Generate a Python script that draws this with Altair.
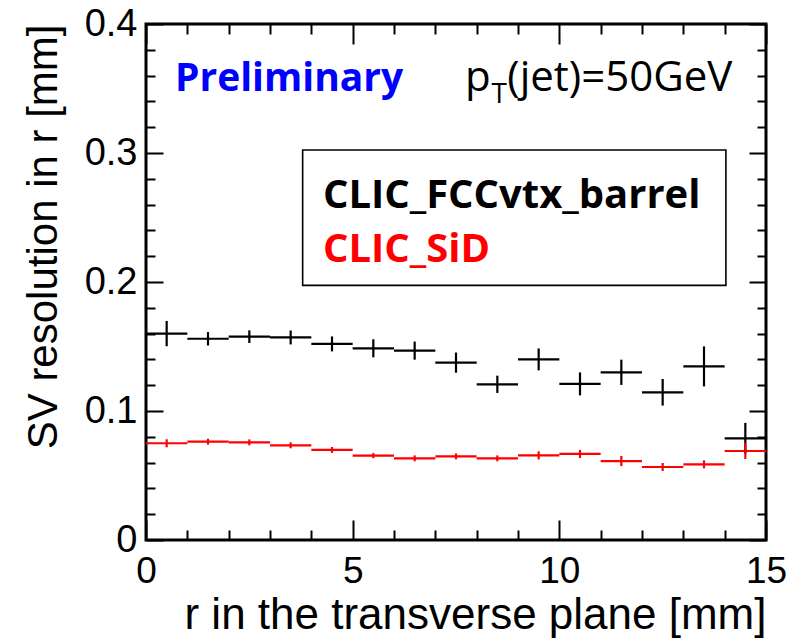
import altair as alt
import pandas as pd

# ---------------- data ----------------
bin_centers = [0.5, 1.5, 2.5, 3.5, 4.5, 5.5, 6.5, 7.5, 8.5, 9.5, 10.5, 11.5, 12.5, 13.5, 14.5]
half_width = 0.5

fcc_vals = [0.160, 0.156, 0.1576, 0.157, 0.152, 0.1486, 0.1468, 0.1375, 0.1207, 0.140,
            0.121, 0.130, 0.1145, 0.1346, 0.0788]
fcc_errs = [0.0098, 0.0052, 0.0049, 0.0054, 0.0058, 0.0070, 0.0070, 0.0078, 0.0067, 0.0085,
            0.0089, 0.0098, 0.0103, 0.0155, 0.0120]

sid_vals = [0.0750, 0.0762, 0.0757, 0.0734, 0.0698, 0.0654, 0.0633, 0.0648, 0.0633, 0.0656,
            0.0667, 0.0612, 0.0566, 0.0587, 0.0690]
sid_errs = [0.0031, 0.0023, 0.0023, 0.0023, 0.0023, 0.0020, 0.0023, 0.0023, 0.0023, 0.0031,
            0.0031, 0.0039, 0.0031, 0.0031, 0.0062]

series_names = ["CLIC_FCCvtx_barrel", "CLIC_SiD"]
series_colors = ["#000000", "#ff0000"]

x_major = [0, 5, 10, 15]
x_minor = [1, 2, 3, 4, 6, 7, 8, 9, 11, 12, 13, 14]
y_major = [0.0, 0.1, 0.2, 0.3, 0.4]
y_minor = [0.02, 0.04, 0.06, 0.08, 0.12, 0.14, 0.16, 0.18, 0.22, 0.24, 0.26, 0.28,
           0.32, 0.34, 0.36, 0.38]

# annotation positions (data coordinates)
legend_box = {"x": [3.79], "x2": [14.03], "y": [0.3023], "y2": [0.1974]}
label_texts = ["Preliminary", "CLIC_FCCvtx_barrel", "CLIC_SiD"]
label_x = [0.70, 4.28, 4.28]
label_y = [0.3480, 0.2574, 0.2155]
label_sizes = [39, 40, 40]
label_colors = ["#0000ff", "#000000", "#ff0000"]

pt_texts = ["p", "T", "(jet)=50GeV"]
pt_x = [7.72, 8.36, 8.74]
pt_y = [0.3480, 0.3390, 0.3480]
pt_sizes = [42, 28, 42]

# ---------------- tables ----------------
rows = []
for name, vals, errs in [(series_names[0], fcc_vals, fcc_errs), (series_names[1], sid_vals, sid_errs)]:
    for c, v, e in zip(bin_centers, vals, errs):
        rows.append({"series": name, "r": c, "lo": c - half_width, "hi": c + half_width,
                     "val": v, "ylo": v - e, "yhi": v + e})
df = pd.DataFrame(rows)

labels_df = pd.DataFrame({"text": label_texts, "x": label_x, "y": label_y,
                          "size": label_sizes, "color": label_colors})
pt_df = pd.DataFrame({"text": pt_texts, "x": pt_x, "y": pt_y, "size": pt_sizes})
box_df = pd.DataFrame(legend_box)

XS = alt.Scale(domain=[0, 15], nice=False, zero=False)
YS = alt.Scale(domain=[0, 0.4], nice=False, zero=False)

FONT = "Arial"
XT, XTm, YT, YTm = 20, 10, 17, 9

ax_bottom = alt.Axis(orient="bottom", values=x_major, tickSize=XT, offset=-XT, domain=False,
                     tickColor="black", tickWidth=2, labelFlush=False, labelOverlap=False,
                     format="d", labelFont=FONT, labelFontSize=37, labelColor="black",
                     labelPadding=13, title="r in the transverse plane [mm]", titleFont=FONT,
                     titleFontSize=44, titleFontWeight="normal", titleColor="black",
                     titleAnchor="end", titlePadding=4, grid=False)
ax_left = alt.Axis(orient="left", values=y_major, tickSize=YT, offset=-YT, domain=False,
                   tickColor="black", tickWidth=2, labelOverlap=False,
                   labelExpr="datum.value == 0 ? '0' : format(datum.value, '.1f')",
                   labelFont=FONT, labelFontSize=38, labelColor="black", labelPadding=9,
                   title="SV resolution in r [mm]", titleFont=FONT, titleFontSize=42,
                   titleFontWeight="normal", titleColor="black", titleAnchor="end",
                   titlePadding=19, grid=False)


def tick_axis(orient, vals, size):
    return alt.Axis(orient=orient, values=vals, tickSize=size, offset=-size, domain=False,
                    labels=False, title=None, tickColor="black", tickWidth=2, grid=False)


color = alt.Color("series:N", scale=alt.Scale(domain=series_names, range=series_colors), legend=None)

hbars = alt.Chart(df).mark_rule(strokeWidth=2.2).encode(
    x=alt.X("lo:Q", scale=XS, axis=ax_bottom), x2="hi:Q",
    y=alt.Y("val:Q", scale=YS, axis=ax_left), color=color)
vbars = alt.Chart(df).mark_rule(strokeWidth=2.2).encode(
    x=alt.X("r:Q", scale=XS, axis=ax_bottom),
    y=alt.Y("ylo:Q", scale=YS, axis=ax_left), y2="yhi:Q", color=color)

box = alt.Chart(box_df).mark_rect(fill="white", stroke="black", strokeWidth=1.6).encode(
    x=alt.X("x:Q", scale=XS, axis=ax_bottom), x2="x2:Q",
    y=alt.Y("y:Q", scale=YS, axis=ax_left), y2="y2:Q")

labels = alt.Chart(labels_df).mark_text(font="Open Sans", fontWeight="bold",
                                        align="left", baseline="alphabetic").encode(
    x=alt.X("x:Q", scale=XS, axis=ax_bottom), y=alt.Y("y:Q", scale=YS, axis=ax_left),
    text="text:N", size=alt.Size("size:Q", scale=None),
    color=alt.Color("color:N", scale=None))

pt = alt.Chart(pt_df).mark_text(font="Open Sans", align="left", baseline="alphabetic",
                                color="black").encode(
    x=alt.X("x:Q", scale=XS, axis=ax_bottom), y=alt.Y("y:Q", scale=YS, axis=ax_left),
    text="text:N", size=alt.Size("size:Q", scale=None))

main = alt.layer(box, hbars, vbars, labels, pt)


def tick_layer(xo, xv, xs, yo, yv, ys):
    return alt.Chart(df).mark_point(opacity=0).encode(
        x=alt.X("r:Q", scale=XS, axis=tick_axis(xo, xv, xs)),
        y=alt.Y("val:Q", scale=YS, axis=tick_axis(yo, yv, ys)))


chart = alt.layer(
    main,
    tick_layer("bottom", x_minor, XTm, "left", y_minor, YTm),
    tick_layer("top", x_major, XT, "right", y_major, YT),
    tick_layer("top", x_minor, XTm, "right", y_minor, YTm),
).resolve_scale(x="independent", y="independent").properties(
    width=620, height=516,
    autosize=alt.AutoSizeParams(type="none"),
    padding={"left": 146, "top": 24, "right": 22, "bottom": 98},
    background="white",
).configure_view(stroke="black", strokeWidth=3)

chart.save("out.html", embed_options={"renderer": "svg", "actions": False})
